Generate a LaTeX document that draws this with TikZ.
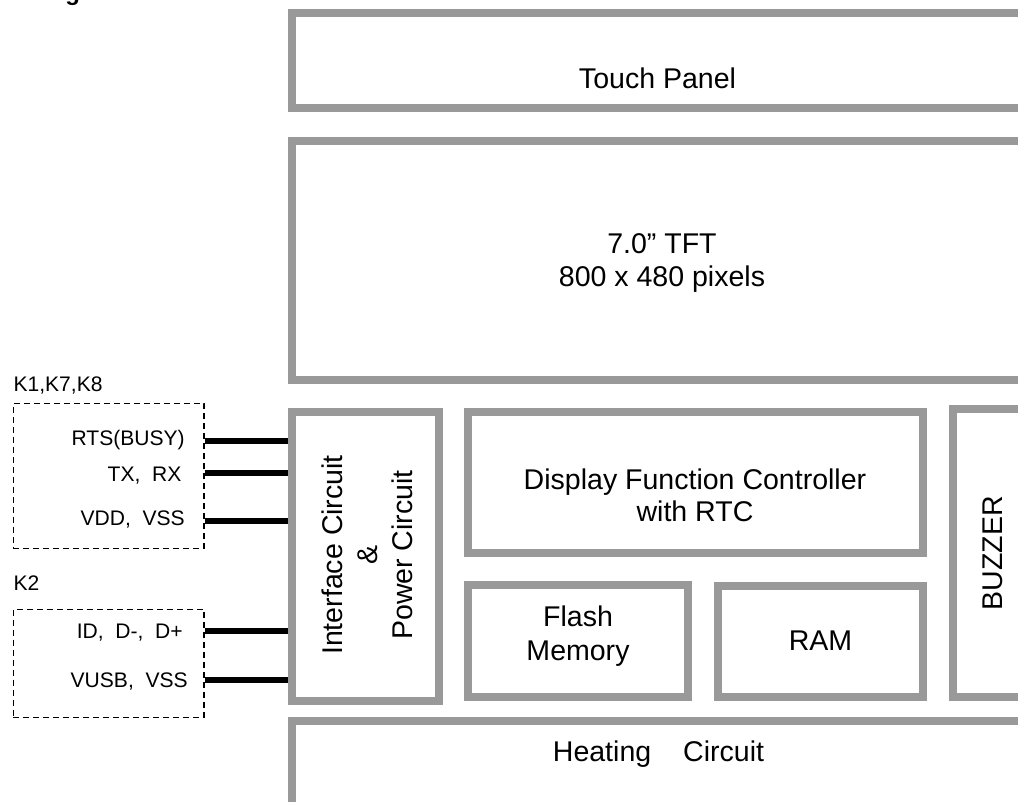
\documentclass[tikz,border=0pt]{standalone}
\usepackage{fontspec}
\setmainfont{Liberation Sans}
\usetikzlibrary{fit}
\definecolor{boxgray}{HTML}{999999}
\begin{document}
\begin{tikzpicture}[x=0.75pt,y=-0.75pt,
  blk/.style={draw=boxgray, line width=6pt, inner sep=0pt, rectangle},
  conn/.style={draw=black, line width=1pt, dash pattern=on 4.5pt off 3pt, inner sep=0pt, rectangle},
  wire/.style={line width=4.3pt, black},
  big/.style={font=\fontsize{21.4}{26.25}\selectfont, inner sep=0pt},
  small/.style={font=\fontsize{15.8}{19}\selectfont, inner sep=0pt}]
\useasboundingbox (0,0) rectangle (1018,801);
\clip (0,0) rectangle (1018,801);

% cut-off title fragment
\node[font=\bfseries\fontsize{18}{20}\selectfont, inner sep=0pt, anchor=base west] (title) at (65,0) {g};

% blocks
\node[blk, fit={(292,13.3) (1040,107.5)}] (touch) {};
\node[blk, fit={(292,141.3) (1040,379.5)}] (tft) {};
\node[blk, fit={(292,412.2) (438.8,701.3)}] (iface) {};
\node[blk, fit={(468.3,412.3) (923,552.8)}] (dfc) {};
\node[blk, fit={(468.3,585.2) (688.3,696.7)}] (flash) {};
\node[blk, fit={(717.8,585.5) (923,697)}] (ram) {};
\node[blk, fit={(952.5,409.2) (1040,696.7)}] (buzzer) {};
\node[blk, fit={(292,721) (1040,830)}] (heat) {};

% connector boxes
\node[conn, fit={(13.3,403.3) (204,548.3)}] (k1) {};
\node[conn, fit={(13.3,609.3) (204,717.5)}] (k2) {};

% block texts
\node[big, anchor=base] (touchtxt) at (657.5,88.3) {Touch Panel};
\node[big, anchor=base] (tfttxta) at (662,253.5) {7.0” TFT};
\node[big, anchor=base] (tfttxtb) at (662,286.5) {800 x 480 pixels};
\node[big, anchor=base] (dfctxta) at (695,489) {Display Function Controller};
\node[big, anchor=base] (dfctxtb) at (695,521) {with RTC};
\node[big, anchor=base] (flashtxta) at (578,626) {Flash};
\node[big, anchor=base] (flashtxtb) at (578,660) {Memory};
\node[big, anchor=base] (ramtxt) at (820.5,650) {RAM};
\node[big, rotate=90] (buzzertxt) at (992.5,553.4) {BUZZER};
\node[big, rotate=90, align=center] (ifacetxt) at (367.5,555) {Interface Circuit\\\&\\Power Circuit};
\node[big, anchor=base] (heattxt) at (658.5,761.5) {Heating\hspace{24pt}Circuit};

% connector labels
\node[small, anchor=base west] (k1lbl) at (13.3,391.7) {K1,K7,K8};
\node[small, anchor=base west] (k2lbl) at (13.3,590) {K2};
\node[small, anchor=base east] (rts) at (185,445.3) {RTS(BUSY)};
\node[small, anchor=base east] (txrx) at (181.7,481.5) {TX,\ \ RX};
\node[small, anchor=base east] (vdd) at (185,525) {VDD,\ \ VSS};
\node[small, anchor=base east] (idd) at (183,638) {ID,\ \ D-,\ \ D+};
\node[small, anchor=base east] (vusb) at (188,687.7) {VUSB,\ \ VSS};

% wires
\coordinate (yrts) at (0,440.7);
\coordinate (ytx) at (0,472.7);
\coordinate (yvdd) at (0,521);
\coordinate (yid) at (0,631);
\coordinate (yvusb) at (0,680);
\draw[wire] (k1.east |- yrts) -- (iface.west |- yrts);
\draw[wire] (k1.east |- ytx) -- (iface.west |- ytx);
\draw[wire] (k1.east |- yvdd) -- (iface.west |- yvdd);
\draw[wire] (k2.east |- yid) -- (iface.west |- yid);
\draw[wire] (k2.east |- yvusb) -- (iface.west |- yvusb);
\end{tikzpicture}
\end{document}
